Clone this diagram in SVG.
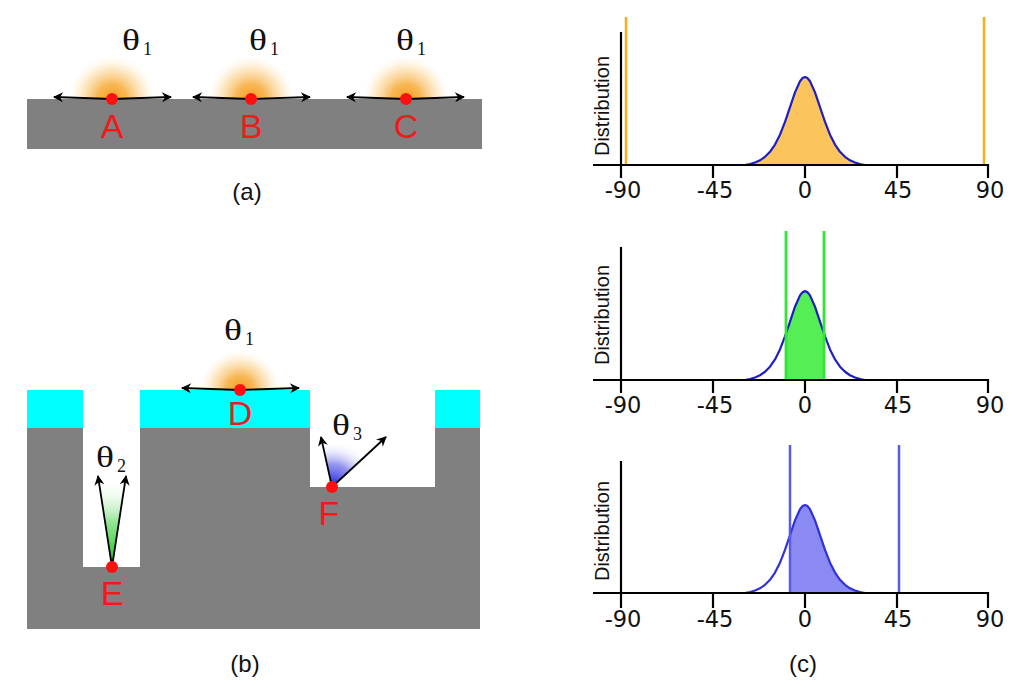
<svg xmlns="http://www.w3.org/2000/svg" xmlns:xlink="http://www.w3.org/1999/xlink" width="1024" height="697" viewBox="0 0 1024 697">
<style>
.gray{fill:#808080}
.cyan{fill:#00ffff}
.dot{fill:#ff1010}
.lbl{font-family:"Liberation Sans",Arial,sans-serif;font-size:34px;fill:#ee1b1b;text-anchor:middle}
.cap{font-family:"Liberation Sans",Arial,sans-serif;font-size:24px;fill:#111;text-anchor:middle}
.th{font-family:"Liberation Serif","Times New Roman",serif;font-size:30px;fill:#111}
.sub{font-family:"Liberation Serif","Times New Roman",serif;font-size:18px;fill:#111}
.arr{stroke:#000;stroke-width:1.8;fill:none;marker-end:url(#ah)}
.axis{stroke:#000;stroke-width:2.2;fill:none}
.tick{font-family:"DejaVu Sans",Verdana,sans-serif;font-size:22.5px;fill:#111;text-anchor:middle}
.ylab{font-family:"Liberation Sans",Arial,sans-serif;font-size:20px;fill:#111;text-anchor:middle}
</style>
<defs>
<marker id="ah" viewBox="0 0 10 10" markerUnits="userSpaceOnUse" markerWidth="12" markerHeight="10" refX="9" refY="5" orient="auto">
<path d="M0,0 L10,5 L0,10 L3,5 z" fill="#000"/>
</marker>
<radialGradient id="glow">
<stop offset="0" stop-color="#f39a12" stop-opacity="0.95"/>
<stop offset="0.35" stop-color="#f6a52c" stop-opacity="0.8"/>
<stop offset="0.7" stop-color="#f9c46c" stop-opacity="0.4"/>
<stop offset="1" stop-color="#ffe8c0" stop-opacity="0"/>
</radialGradient>
<linearGradient id="green" x1="0" y1="1" x2="0" y2="0">
<stop offset="0" stop-color="#10c010"/>
<stop offset="0.5" stop-color="#60d860" stop-opacity="0.7"/>
<stop offset="1" stop-color="#ffffff" stop-opacity="0"/>
</linearGradient>
<radialGradient id="blue" gradientUnits="userSpaceOnUse" cx="332" cy="487" r="46">
<stop offset="0" stop-color="#1818e0"/>
<stop offset="0.5" stop-color="#6a6ae8" stop-opacity="0.7"/>
<stop offset="1" stop-color="#ffffff" stop-opacity="0"/>
</radialGradient>
<path id="bellArea" d="M-60,0 L-55,-0.9 L-50,-2.5 L-45,-4.7 L-40,-8.2 L-35,-13.2 L-30,-20.4 L-25,-30.3 L-20,-43.1 L-15,-57.9 L-10,-72.6 L-5,-83.8 L-2.5,-86.9 L0,-88 L2.5,-86.9 L5,-83.8 L10,-72.6 L15,-57.9 L20,-43.1 L25,-30.3 L30,-20.4 L35,-13.2 L40,-8.2 L45,-4.7 L50,-2.5 L55,-0.9 L60,0 Z"/>
<path id="bellLine" d="M-60,0 L-55,-0.9 L-50,-2.5 L-45,-4.7 L-40,-8.2 L-35,-13.2 L-30,-20.4 L-25,-30.3 L-20,-43.1 L-15,-57.9 L-10,-72.6 L-5,-83.8 L-2.5,-86.9 L0,-88 L2.5,-86.9 L5,-83.8 L10,-72.6 L15,-57.9 L20,-43.1 L25,-30.3 L30,-20.4 L35,-13.2 L40,-8.2 L45,-4.7 L50,-2.5 L55,-0.9 L60,0" fill="none" stroke-linejoin="round"/>
<clipPath id="clip2"><rect x="786" y="200" width="38" height="200"/></clipPath>
<clipPath id="clip3"><rect x="790" y="400" width="80" height="200"/></clipPath>
</defs>
<rect width="1024" height="697" fill="#fff"/>

<!-- panel (a) -->
<g id="panel-a">
<circle cx="112" cy="99" r="43" fill="url(#glow)"/>
<circle cx="251" cy="99" r="43" fill="url(#glow)"/>
<circle cx="406" cy="99" r="43" fill="url(#glow)"/>
<rect class="gray" x="27" y="99" width="455" height="50"/>
</g>

<!-- panel (b) -->
<g id="panel-b">
<circle cx="240" cy="390" r="40" fill="url(#glow)"/>
<path class="gray" d="M27,428 H83 V567 H140 V428 H310 V487 H435 V428 H480 V629 H27 Z"/>
<rect class="cyan" x="27" y="390" width="56" height="38"/>
<rect class="cyan" x="140" y="390" width="170" height="38"/>
<rect class="cyan" x="435" y="390" width="45" height="38"/>
<polygon points="112,567 98.5,479 125.5,479" fill="url(#green)"/>
<path d="M332,487 L323.2,442.9 A45,45 0 0 1 364.7,456.1 Z" fill="url(#blue)"/>
</g>

<g id="connectors">
<line class="arr" x1="112" y1="99" x2="54" y2="97"/>
<line class="arr" x1="112" y1="99" x2="171" y2="97"/>
<line class="arr" x1="251" y1="99" x2="193" y2="97"/>
<line class="arr" x1="251" y1="99" x2="310" y2="97"/>
<line class="arr" x1="406" y1="99" x2="347" y2="97"/>
<line class="arr" x1="406" y1="99" x2="464" y2="97"/>
<line class="arr" x1="240" y1="390" x2="182" y2="388"/>
<line class="arr" x1="240" y1="390" x2="299" y2="388"/>
<line class="arr" x1="112" y1="567" x2="98" y2="476"/>
<line class="arr" x1="112" y1="567" x2="126" y2="476"/>
<line class="arr" x1="332" y1="487" x2="321" y2="437"/>
<line class="arr" x1="332" y1="487" x2="386" y2="437"/>
</g>

<g id="node-A"><circle class="dot" cx="112" cy="99" r="6"/><text class="lbl" x="112" y="138">A</text>
<g transform="translate(122,50)"><text class="th" transform="scale(1.25,1)">θ</text><text class="sub" x="21" y="5">1</text></g></g>
<g id="node-B"><circle class="dot" cx="251" cy="99" r="6"/><text class="lbl" x="251" y="138">B</text>
<g transform="translate(249,50)"><text class="th" transform="scale(1.25,1)">θ</text><text class="sub" x="21" y="5">1</text></g></g>
<g id="node-C"><circle class="dot" cx="406" cy="99" r="6"/><text class="lbl" x="406" y="138">C</text>
<g transform="translate(396,50)"><text class="th" transform="scale(1.25,1)">θ</text><text class="sub" x="21" y="5">1</text></g></g>
<g id="node-D"><circle class="dot" cx="240" cy="390" r="6"/><text class="lbl" x="240" y="425">D</text>
<g transform="translate(224,340)"><text class="th" transform="scale(1.25,1)">θ</text><text class="sub" x="21" y="5">1</text></g></g>
<g id="node-E"><circle class="dot" cx="112" cy="567" r="6"/><text class="lbl" x="112" y="605">E</text>
<g transform="translate(96,467)"><text class="th" transform="scale(1.25,1)">θ</text><text class="sub" x="21" y="5">2</text></g></g>
<g id="node-F"><circle class="dot" cx="332" cy="487" r="6"/><text class="lbl" x="329" y="525">F</text>
<g transform="translate(332,435)"><text class="th" transform="scale(1.25,1)">θ</text><text class="sub" x="21" y="5">3</text></g></g>

<text class="cap" x="247" y="200">(a)</text>
<text class="cap" x="245" y="672">(b)</text>
<text class="cap" x="803" y="672">(c)</text>

<!-- plot 1 -->
<g id="plot-1">
<use xlink:href="#bellArea" transform="translate(805,165)" fill="#fcc45c"/>
<use xlink:href="#bellLine" transform="translate(805,165)" stroke="#1e1ec8" stroke-width="2.2"/>
<line x1="626" y1="17" x2="626" y2="165" stroke="#f5ae1e" stroke-width="2.5"/>
<line x1="984" y1="17" x2="984" y2="165" stroke="#f5ae1e" stroke-width="2.5"/>
<path class="axis" d="M621,32 V178 M593,165 H988 V178 M713,165 V178 M805,165 V178 M897,165 V178"/>
<text class="ylab" transform="translate(609,106) rotate(-90)">Distribution</text>
<text class="tick" x="623" y="198">-90</text>
<text class="tick" x="715" y="198">-45</text>
<text class="tick" x="805" y="198">0</text>
<text class="tick" x="898" y="198">45</text>
<text class="tick" x="990" y="198">90</text>
</g>

<!-- plot 2 -->
<g id="plot-2">
<g clip-path="url(#clip2)"><use xlink:href="#bellArea" transform="translate(805,380) scale(1,1.01)" fill="#55ee55"/></g>
<use xlink:href="#bellLine" transform="translate(805,380) scale(1,1.01)" stroke="#1e1ec8" stroke-width="2.2"/>
<line x1="786" y1="231" x2="786" y2="380" stroke="#33e633" stroke-width="2.8"/>
<line x1="824" y1="231" x2="824" y2="380" stroke="#33e633" stroke-width="2.8"/>
<path class="axis" d="M621,247 V393 M593,380 H988 V393 M713,380 V393 M805,380 V393 M897,380 V393"/>
<text class="ylab" transform="translate(609,315) rotate(-90)">Distribution</text>
<text class="tick" x="623" y="413">-90</text>
<text class="tick" x="715" y="413">-45</text>
<text class="tick" x="805" y="413">0</text>
<text class="tick" x="898" y="413">45</text>
<text class="tick" x="990" y="413">90</text>
</g>

<!-- plot 3 -->
<g id="plot-3">
<g clip-path="url(#clip3)"><use xlink:href="#bellArea" transform="translate(805,593)" fill="#8a8af2"/></g>
<use xlink:href="#bellLine" transform="translate(805,593)" stroke="#3030dc" stroke-width="2.2"/>
<line x1="790" y1="445" x2="790" y2="593" stroke="#5a5ae8" stroke-width="2.5"/>
<line x1="899" y1="445" x2="899" y2="593" stroke="#5a5ae8" stroke-width="2.5"/>
<path class="axis" d="M621,461 V608 M593,593 H988 V608 M713,593 V608 M805,593 V608 M897,593 V608"/>
<text class="ylab" transform="translate(609,531) rotate(-90)">Distribution</text>
<text class="tick" x="623" y="627">-90</text>
<text class="tick" x="715" y="627">-45</text>
<text class="tick" x="805" y="627">0</text>
<text class="tick" x="898" y="627">45</text>
<text class="tick" x="990" y="627">90</text>
</g>
</svg>
